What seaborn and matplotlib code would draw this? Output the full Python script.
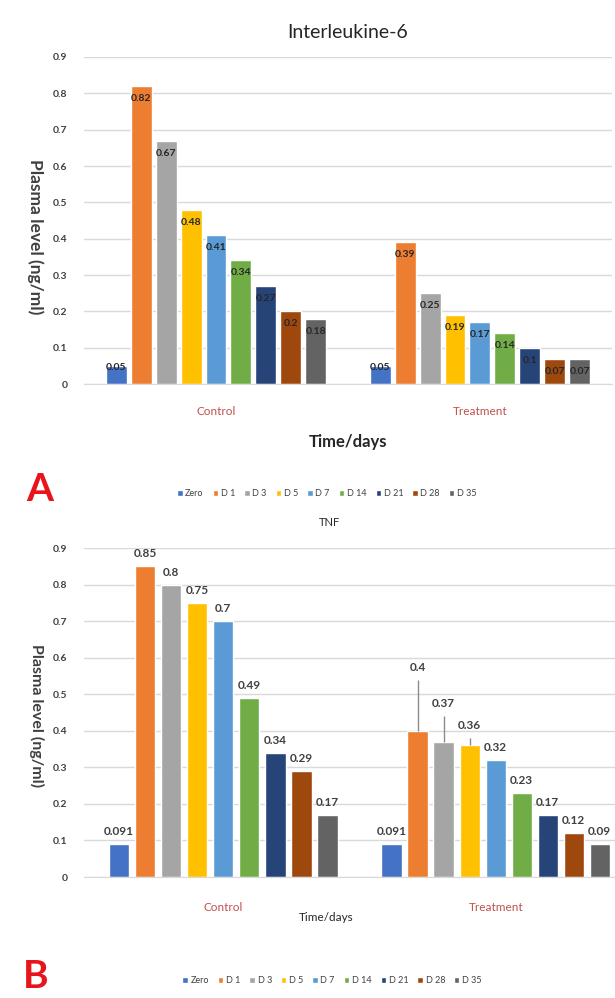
import pandas as pd
import seaborn as sns
import matplotlib.pyplot as plt

# data
groups = ["Control", "Treatment"]
days = ["Zero", "D 1", "D 3", "D 5", "D 7", "D 14", "D 21", "D 28", "D 35"]
il6_control = [0.05, 0.82, 0.67, 0.48, 0.41, 0.34, 0.27, 0.2, 0.18]
il6_treatment = [0.05, 0.39, 0.25, 0.19, 0.17, 0.14, 0.1, 0.07, 0.07]
tnf_control = [0.091, 0.85, 0.8, 0.75, 0.7, 0.49, 0.34, 0.29, 0.17]
tnf_treatment = [0.091, 0.4, 0.37, 0.36, 0.32, 0.23, 0.17, 0.12, 0.09]
tnf_err_control = [0, 0, 0, 0, 0, 0, 0, 0, 0]
tnf_err_treatment = [0, 0.14, 0.07, 0.02, 0, 0, 0, 0, 0]
yticks = [0, 0.1, 0.2, 0.3, 0.4, 0.5, 0.6, 0.7, 0.8, 0.9]

colors = ["#4472C4", "#ED7D31", "#A5A5A5", "#FFC000", "#5B9BD5",
          "#70AD47", "#264478", "#9E480E", "#636363"]


def to_long(ctrl, treat):
    rows = []
    for g, vals in zip(groups, [ctrl, treat]):
        for d, v in zip(days, vals):
            rows.append({"group": g, "day": d, "value": v})
    return pd.DataFrame(rows)


il6 = to_long(il6_control, il6_treatment)
tnf = to_long(tnf_control, tnf_treatment)

sns.set_style("white")
plt.rcParams["font.family"] = ["Lato", "DejaVu Sans"]

fig = plt.figure(figsize=(6.15, 9.98), dpi=100)
ax1 = fig.add_axes([0.1366, 0.6152, 0.995 - 0.1366, 0.9429 - 0.6152])
ax2 = fig.add_axes([0.1366, 0.1212, 1.0325 - 0.1366, 0.4509 - 0.1212])

red = "#C0504D"
txt = "#404040"


def style_axes(ax):
    ax.set_ylim(0, 0.9)
    ax.set_yticks(yticks)
    ax.set_yticklabels([f"{t:g}" for t in yticks], fontsize=7.5, fontweight="bold", color=txt)
    ax.yaxis.grid(True, color="#D9D9D9", lw=1)
    ax.set_axisbelow(True)
    for s in ["top", "right", "left"]:
        ax.spines[s].set_visible(False)
    ax.spines["bottom"].set_color("#D9D9D9")
    ax.tick_params(axis="both", length=0)
    ax.tick_params(axis="y", pad=12)
    for lab in ax.get_xticklabels():
        lab.set_color(red)
        lab.set_fontsize(8.5)


# ---- panel A : Interleukine-6
sns.barplot(data=il6, x="group", y="value", hue="day", hue_order=days,
            palette=colors, width=0.85, gap=0.16, saturation=1,
            errorbar=None, ax=ax1)
style_axes(ax1)
ax1.tick_params(axis="x", pad=16)
ax1.set_title("Interleukine-6", fontsize=14, color="#262626", pad=14)
ax1.set_xlabel("Time/days", fontsize=12, fontweight="bold", color="#262626", labelpad=12)
ax1.set_ylabel("Plasma level (ng/ml)", fontsize=12.5, fontweight="bold", color=txt,
               rotation=270)
ax1.yaxis.set_label_coords(-0.108, 0.45)
for cont in list(ax1.containers):
    for bar in cont:
        v = bar.get_height()
        off = -9 if v > 0.06 else -1
        ax1.annotate(f"{v:g}", (bar.get_x() + bar.get_width() / 2, v),
                     xytext=(0, off), textcoords="offset points",
                     ha="center", va="center", fontsize=7.5, fontweight="bold",
                     color="#262626")
sns.move_legend(ax1, "center", bbox_to_anchor=(0.46, -0.335), ncol=9, frameon=False,
                title=None, fontsize=6.5, handlelength=0.6, handleheight=0.6,
                handletextpad=0.3, columnspacing=1.0, labelcolor=txt)

# ---- panel B : TNF
sns.barplot(data=tnf, x="group", y="value", hue="day", hue_order=days,
            palette=colors, width=0.86, gap=0.22, saturation=1,
            errorbar=None, ax=ax2)
style_axes(ax2)
ax2.tick_params(axis="x", pad=18)
ax2.set_title("TNF", fontsize=8, color="#262626", x=0.445, pad=16)
ax2.set_xlabel("Time/days", fontsize=8.5, color="#262626")
ax2.xaxis.set_label_coords(0.44, -0.105)
ax2.set_ylabel("Plasma level (ng/ml)", fontsize=11.5, fontweight="bold", color=txt,
               rotation=270)
ax2.yaxis.set_label_coords(-0.1, 0.49)
errs = [tnf_err_control, tnf_err_treatment]
bar_conts = list(ax2.containers)
for i, cont in enumerate(bar_conts):
    for j, bar in enumerate(cont):
        v = bar.get_height()
        e = errs[j][i]
        xc = bar.get_x() + bar.get_width() / 2
        if e > 0:
            ax2.errorbar(xc, v, yerr=[[0], [e]], fmt="none", ecolor="#8C8C8C", lw=1, capsize=0)
        ax2.annotate(f"{v:g}", (xc, v + e), xytext=(0, 9), textcoords="offset points",
                     ha="center", va="center", fontsize=8.5, fontweight="bold", color=txt)
sns.move_legend(ax2, "center", bbox_to_anchor=(0.45, -0.315), ncol=9, frameon=False,
                title=None, fontsize=6.5, handlelength=0.6, handleheight=0.6,
                handletextpad=0.3, columnspacing=1.0, labelcolor=txt)

# panel letters
fig.text(0.065, 0.51, "A", fontsize=28, fontweight="bold", color="#E8141B", ha="center", va="center")
fig.text(0.058, 0.022, "B", fontsize=28, fontweight="bold", color="#E8141B", ha="center", va="center")

fig.savefig("out.png", dpi=100)
